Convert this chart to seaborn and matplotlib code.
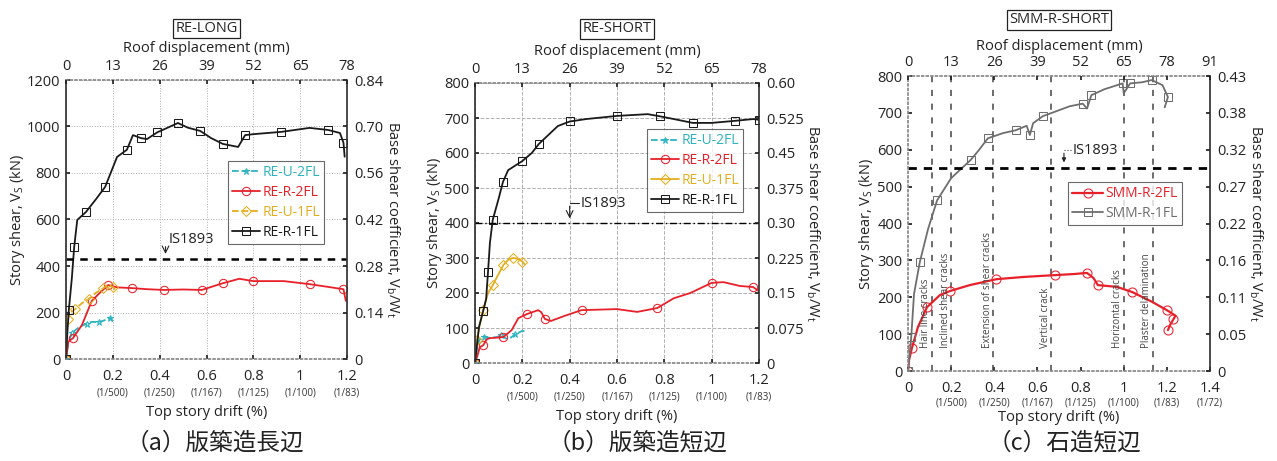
import numpy as np
import matplotlib
matplotlib.use('Agg')
import matplotlib.pyplot as plt
import matplotlib.transforms as mtrans
import seaborn as sns

sns.set_theme(style='white')
plt.rcParams['font.family'] = ['Open Sans', 'DejaVu Sans']
plt.rcParams['mathtext.default'] = 'regular'

# ---------------- data ----------------
# (a) RE-LONG
a_u2_drift = [0, 0.01, 0.025, 0.06, 0.09, 0.11, 0.14, 0.16, 0.19, 0.2]
a_u2_v = [0, 70, 112, 140, 152, 160, 158, 165, 176, 162]
a_r2_drift = [0, 0.01, 0.03, 0.068, 0.11, 0.15, 0.18, 0.22, 0.28, 0.35, 0.42, 0.50, 0.58, 0.62,
              0.67, 0.74, 0.80, 0.93, 1.04, 1.12, 1.185, 1.195]
a_r2_v = [0, 75, 90, 146, 250, 290, 318, 308, 305, 300, 297, 299, 297, 310, 326, 345, 335, 335,
          322, 310, 300, 250]
a_u1_drift = [0, 0.003, 0.008, 0.017, 0.04, 0.068, 0.10, 0.125, 0.16, 0.18, 0.2, 0.22]
a_u1_v = [0, 120, 170, 198, 215, 240, 260, 283, 305, 318, 310, 288]
a_r1_drift = [0, 0.005, 0.012, 0.025, 0.035, 0.048, 0.085, 0.13, 0.167, 0.218, 0.26, 0.286, 0.32,
              0.346, 0.39, 0.43, 0.478, 0.52, 0.573, 0.62, 0.67, 0.735, 0.765, 0.80, 0.92, 1.04,
              1.12, 1.17, 1.185, 1.19]
a_r1_v = [0, 100, 210, 348, 482, 598, 632, 690, 740, 869, 900, 963, 950, 946, 975, 993, 1015, 995,
          981, 950, 925, 912, 963, 967, 977, 994, 985, 972, 930, 870]
a_is1893 = 430

# (b) RE-SHORT
b_u2_drift = [0, 0.01, 0.02, 0.04, 0.06, 0.093, 0.11, 0.13, 0.148, 0.17, 0.2, 0.22]
b_u2_v = [0, 50, 68, 75, 72, 74, 80, 70, 71, 82, 92, 89]
b_r2_drift = [0, 0.01, 0.02, 0.035, 0.05, 0.063, 0.12, 0.155, 0.183, 0.22, 0.267, 0.28, 0.295,
              0.32, 0.38, 0.45, 0.60, 0.685, 0.77, 0.84, 0.91, 1.0, 1.05, 1.12, 1.175, 1.2]
b_r2_v = [0, 20, 45, 51, 68, 71, 74, 94, 128, 140, 151, 145, 126, 120, 135, 151, 154, 146, 157,
          185, 200, 229, 231, 220, 217, 205]
b_u1_drift = [0, 0.005, 0.008, 0.02, 0.035, 0.055, 0.075, 0.093, 0.12, 0.14, 0.16, 0.18, 0.2, 0.21]
b_u1_v = [0, 60, 66, 110, 151, 200, 222, 246, 280, 295, 300, 298, 290, 282]
b_r1_drift = [0, 0.017, 0.035, 0.047, 0.055, 0.063, 0.075, 0.1, 0.118, 0.14, 0.2, 0.24, 0.27,
              0.35, 0.40, 0.47, 0.60, 0.73, 0.78, 0.84, 0.92, 1.0, 1.1, 1.175, 1.2]
b_r1_v = [0, 103, 150, 183, 260, 343, 409, 470, 517, 551, 577, 600, 626, 677, 690, 697, 706, 711,
          705, 697, 686, 686, 692, 697, 695]
b_is1893 = 400

# (c) SMM-R-SHORT
c_r2_drift = [0, 0.005, 0.018, 0.046, 0.088, 0.148, 0.195, 0.287, 0.41, 0.535, 0.68, 0.77, 0.83,
              0.86, 0.88, 0.97, 1.04, 1.13, 1.2, 1.24, 1.23, 1.215, 1.205]
c_r2_v = [0, 30, 62, 119, 173, 206, 217, 233, 249, 255, 260, 263, 266, 252, 233, 228, 214, 188,
          165, 150, 140, 125, 111]
c_r1_drift = [0, 0.008, 0.015, 0.028, 0.055, 0.093, 0.135, 0.2, 0.29, 0.33, 0.37, 0.44, 0.5, 0.55,
              0.565, 0.58, 0.625, 0.75, 0.81, 0.83, 0.85, 0.91, 0.995, 1.0, 1.03, 1.085, 1.13,
              1.18, 1.205, 1.19]
c_r1_v = [0, 50, 92, 209, 296, 385, 463, 523, 572, 600, 631, 645, 653, 665, 640, 672, 691, 718,
          725, 712, 748, 764, 780, 753, 780, 783, 789, 775, 743, 715]
c_is1893 = 550
c_crack_drift = [0.11, 0.2, 0.395, 0.665, 1.0, 1.135]
c_crack_labels = ['Hair line cracks', 'Inclined shear cracks', 'Extension of shear cracks',
                  'Vertical crack', 'Horizontal cracks', 'Plaster delamination']

# tick labels
ab_drift_ticks = [0, 0.2, 0.4, 0.6, 0.8, 1.0, 1.2]
ab_drift_labels = ['0', '0.2', '0.4', '0.6', '0.8', '1', '1.2']
ab_ratio_labels = ['(1/500)', '(1/250)', '(1/167)', '(1/125)', '(1/100)', '(1/83)']
c_drift_ticks = [0, 0.2, 0.4, 0.6, 0.8, 1.0, 1.2, 1.4]
c_drift_labels = ['0', '0.2', '0.4', '0.6', '0.8', '1', '1.2', '1.4']
c_ratio_labels = ['(1/500)', '(1/250)', '(1/167)', '(1/125)', '(1/100)', '(1/83)', '(1/72)']
ab_roof_ticks = [0, 13, 26, 39, 52, 65, 78]
c_roof_ticks = [0, 13, 26, 39, 52, 65, 78, 91]
a_coef_labels = ['0', '0.14', '0.28', '0.42', '0.56', '0.70', '0.84']
b_coef_labels = ['0', '0.075', '0.15', '0.225', '0.30', '0.375', '0.45', '0.525', '0.60']
c_coef_labels = ['0', '0.05', '0.11', '0.16', '0.22', '0.27', '0.32', '0.38', '0.43']
captions = ['（a）版築造長辺', '（b）版築造短辺', '（c）石造短辺']

CYAN = '#2bb3c0'
RED = '#e8202a'
YEL = '#e3ae1e'
BLK = '#1a1a1a'
GRAY = '#6e6e6e'

W, H = 1277, 461
fig = plt.figure(figsize=(W / 100, H / 100), dpi=100)


def px_axes(l, r, t, b):
    return fig.add_axes([l / W, (H - b) / H, (r - l) / W, (b - t) / H])


def series(ax, x, y, color, marker, ls, every, label, ms=6, lw=1.3, alpha=1.0):
    sns.lineplot(x=x, y=y, ax=ax, color=color, linestyle=ls, marker=marker, markevery=every,
                 markerfacecolor='none', markeredgecolor=color, markersize=ms, linewidth=lw,
                 sort=False, estimator=None, legend=False, alpha=alpha)
    line = ax.lines[-1]
    line.set_label(label)
    return line


def frame(ax, xmax, ymax, yticks, drift_ticks, drift_labels, ratio_labels, roof_ticks, roofmax,
          coef_ticks, coef_labels, title, title_y, ylab_pad, rlab_pad, xlab_pad, roof_pad,
          ratio_off=33, dotted_spines=False, grid=None):
    ax.set_xlim(0, xmax)
    ax.set_ylim(0, ymax)
    ax.set_yticks(yticks)
    ax.set_xticks(drift_ticks)
    ax.set_xticklabels(drift_labels)
    ax.tick_params(axis='both', direction='in', length=3, labelsize=10.5, colors='#222')
    ax.tick_params(axis='x', pad=7)
    ax.tick_params(axis='y', pad=4)
    ax.set_ylabel('Story shear, V$_S$ (kN)', fontsize=10.5, labelpad=ylab_pad, color='#222')
    ax.set_xlabel('Top story drift (%)', fontsize=10.5, labelpad=xlab_pad, color='#222')
    tr = mtrans.offset_copy(ax.get_xaxis_transform(), fig=fig, x=0, y=-ratio_off, units='dots')
    for xt, rl in zip(drift_ticks[1:], ratio_labels):
        ax.text(xt, 0, rl, transform=tr, ha='center', va='center', fontsize=7, color='#333')
    if grid is not None:
        ax.grid(True, color='#b0b0b0', linestyle=grid, linewidth=0.7)
    for s in ['top', 'bottom']:
        ax.spines[s].set_linestyle(':')
        ax.spines[s].set_color('#888')
    ax.spines['left'].set_color('#333' if not dotted_spines else '#888')
    if dotted_spines:
        ax.spines['left'].set_linestyle(':')
    ax.spines['right'].set_color('#333')
    # top axis
    top = ax.twiny()
    top.set_xlim(0, roofmax)
    top.set_xticks(roof_ticks)
    top.tick_params(axis='x', direction='in', length=3, labelsize=10.5, pad=4, colors='#222')
    for s in top.spines.values():
        s.set_visible(False)
    top.set_xlabel('Roof displacement (mm)', fontsize=10.5, labelpad=roof_pad, color='#222')
    # right axis
    rt = ax.twinx()
    rt.set_ylim(0, ymax)
    rt.set_yticks(coef_ticks)
    rt.set_yticklabels(coef_labels)
    rt.tick_params(axis='y', direction='in', length=3, labelsize=10.5, pad=5, colors='#222')
    for s in rt.spines.values():
        s.set_visible(False)
    rt.set_ylabel('Base shear coefficient, V$_b$/W$_t$', fontsize=10.5, rotation=270,
                  labelpad=rlab_pad, color='#222')
    ax.text(0.5, title_y, title, transform=ax.transAxes, ha='center', va='center', fontsize=10.5,
            bbox=dict(boxstyle='square,pad=0.15', fc='white', ec='#222', lw=0.9))
    return top, rt


def legend(ax, handles, anchor, hl=2.0):
    lg = ax.legend(handles=handles, loc='upper left', bbox_to_anchor=anchor,
                   fontsize=10, labelcolor='linecolor', frameon=True, fancybox=False,
                   edgecolor='#444', handlelength=hl, borderpad=0.3, labelspacing=0.35,
                   handletextpad=0.2, borderaxespad=0)
    lg.get_frame().set_linewidth(0.8)
    return lg


# ---------------- panel a ----------------
axa = px_axes(66, 347, 80, 359)
axa.set_zorder(3)
axa.patch.set_visible(False)
la = [series(axa, a_u2_drift, a_u2_v, CYAN, '*', '--', 2, 'RE-U-2FL', ms=5),
      series(axa, a_r2_drift, a_r2_v, RED, 'o', '-', 2, 'RE-R-2FL'),
      series(axa, a_u1_drift, a_u1_v, YEL, 'D', '--', 2, 'RE-U-1FL', ms=5),
      series(axa, a_r1_drift, a_r1_v, BLK, 's', '-', 2, 'RE-R-1FL')]
axa.axhline(a_is1893, color='black', linestyle=(0, (3, 2.5)), linewidth=1.8)
axa.annotate('', xy=(0.425, a_is1893 + 10), xytext=(0.425, 495),
             arrowprops=dict(arrowstyle='->', lw=0.8, color='#222'))
axa.text(0.44, 512, 'IS1893', fontsize=10.5, ha='left', va='center', color='#222')
legend(axa, la, (0.575, 0.71))
frame(axa, 1.2, 1200, np.arange(0, 1201, 200), ab_drift_ticks, ab_drift_labels, ab_ratio_labels,
      ab_roof_ticks, 78, np.linspace(0, 1200, 7), a_coef_labels, 'RE-LONG', 1.185,
      0, 13, 15, 5, ratio_off=34, grid=':')

# ---------------- panel b ----------------
axb = px_axes(475, 759, 83, 363)
axb.set_zorder(3)
axb.patch.set_visible(False)
lb = [series(axb, b_u2_drift, b_u2_v, CYAN, '*', '--', 3, 'RE-U-2FL', ms=5),
      series(axb, b_r2_drift, b_r2_v, RED, 'o', '-', 3, 'RE-R-2FL'),
      series(axb, b_u1_drift, b_u1_v, YEL, 'D', '-', 2, 'RE-U-1FL', ms=5),
      series(axb, b_r1_drift, b_r1_v, BLK, 's', '-', 2, 'RE-R-1FL')]
axb.axhline(b_is1893, color='black', linestyle=(0, (5, 2, 1, 2)), linewidth=1.0)
axb.annotate('', xy=(0.4, b_is1893 + 5), xytext=(0.4, 456),
             arrowprops=dict(arrowstyle='->', lw=0.8, color='#222'))
axb.plot([0.4, 0.44], [456, 456], color='#222', lw=0.8)
axb.text(0.445, 456, 'IS1893', fontsize=10.5, ha='left', va='center', color='#222')
legend(axb, lb, (0.605, 0.835))
frame(axb, 1.2, 800, np.arange(0, 801, 100), ab_drift_ticks, ab_drift_labels, ab_ratio_labels,
      ab_roof_ticks, 78, np.arange(0, 801, 100), b_coef_labels, 'RE-SHORT', 1.193,
      0, 13, 15, 5, ratio_off=34, grid='--')

# ---------------- panel c ----------------
axc = px_axes(908, 1210, 76, 371)
axc.set_zorder(3)
axc.patch.set_visible(False)
for xd, lab in zip(c_crack_drift, c_crack_labels):
    axc.axvline(xd, color='#444', linestyle=(0, (4, 5)), linewidth=1.1)
    axc.text(xd - 0.028, 62, lab, rotation=90, fontsize=7, ha='center', va='bottom', color='#444')
lc = [series(axc, c_r2_drift, c_r2_v, RED, 'o', '-', 2, 'SMM-R-2FL', lw=1.6, ms=6.5),
      series(axc, c_r1_drift, c_r1_v, GRAY, 's', '-', 2, 'SMM-R-1FL')]
axc.axhline(c_is1893, color='black', linestyle=(0, (3, 2.5)), linewidth=2.0)
axc.annotate('', xy=(0.723, c_is1893 + 8), xytext=(0.723, 598),
             arrowprops=dict(arrowstyle='-|>', lw=0.8, color='#222', mutation_scale=6))
axc.plot([0.723, 0.76], [598, 598], color='#444', lw=0.8, linestyle=':')
axc.text(0.765, 598, 'IS1893', fontsize=10.5, ha='left', va='center', color='#222')
legend(axc, lc, (0.53, 0.64), hl=2.2)
frame(axc, 1.4, 800, np.arange(0, 801, 100), c_drift_ticks, c_drift_labels, c_ratio_labels,
      c_roof_ticks, 91, np.arange(0, 801, 100), c_coef_labels, 'SMM-R-SHORT', 1.19,
      1, 13, 10, 4, ratio_off=32, dotted_spines=True)

# captions
for cx, cap in zip([215, 638, 1064], captions):
    fig.text(cx / W, 1 - 443 / H, cap, ha='center', va='center', fontsize=17,
             family=['Noto Sans CJK JP', 'DejaVu Sans'], color='#222')

fig.savefig('out.png', dpi=100, facecolor='white')
